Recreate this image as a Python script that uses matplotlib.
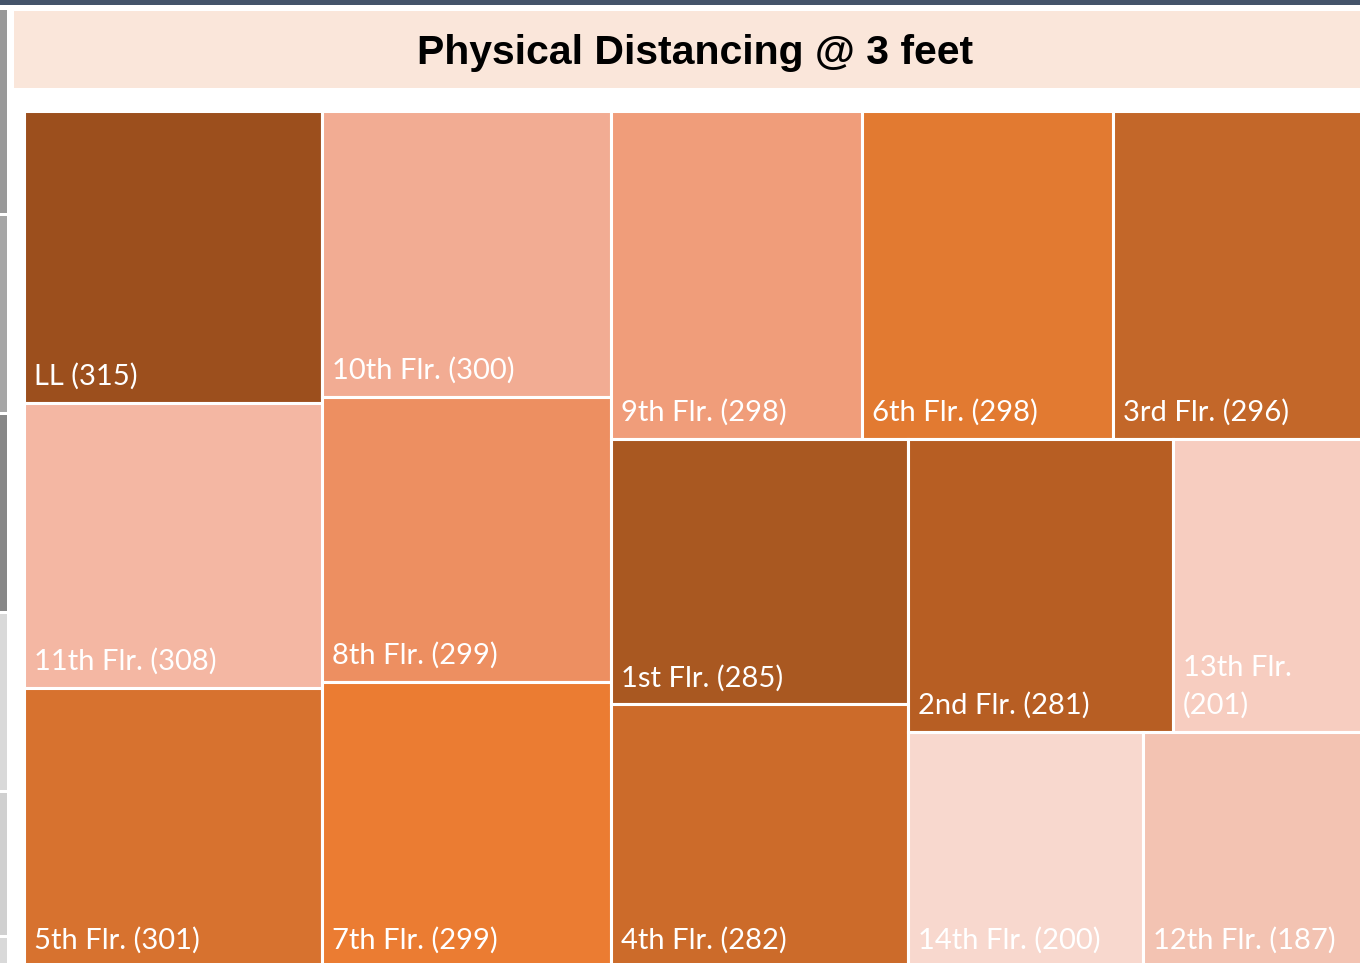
import matplotlib
matplotlib.use('Agg')
import matplotlib.pyplot as plt
from matplotlib.patches import Rectangle

# treemap data (sorted largest first, like Excel does)
floors = ['LL', '11th Flr.', '5th Flr.', '10th Flr.', '8th Flr.', '7th Flr.',
          '9th Flr.', '6th Flr.', '3rd Flr.', '1st Flr.', '4th Flr.', '2nd Flr.',
          '13th Flr.', '14th Flr.', '12th Flr.']
counts = [315, 308, 301, 300, 299, 299, 298, 298, 296, 285, 282, 281, 201, 200, 187]
colors = ['#9C4F1D', '#F4B7A3', '#D7722F', '#F2AC93', '#ED8F61', '#EB7C32',
          '#F09D7A', '#E27A31', '#C36729', '#A95821', '#CC6B2A', '#B75E23',
          '#F7CDC0', '#F8D8CE', '#F3C3B2']
title = 'Physical Distancing @ 3 feet'

W, H = 1339.0, 856.0  # treemap box in pixels


def layout(sizes, x, y, dx, dy):
    covered = sum(sizes)
    rects = []
    if dx >= dy:
        # column on the left
        width = covered / dy
        for s in sizes:
            rects.append((x, y, width, s / width))
            y += s / width
    else:
        # row along the top
        height = covered / dx
        for s in sizes:
            rects.append((x, y, s / height, height))
            x += s / height
    return rects


def worst(sizes, x, y, dx, dy):
    return max(max(r[2] / r[3], r[3] / r[2]) for r in layout(sizes, x, y, dx, dy))


def squarify(sizes, x, y, dx, dy):
    if not sizes:
        return []
    if len(sizes) == 1:
        return layout(sizes, x, y, dx, dy)
    i = 1
    while i < len(sizes) and worst(sizes[:i], x, y, dx, dy) >= worst(sizes[:i + 1], x, y, dx, dy):
        i += 1
    cur, rest = sizes[:i], sizes[i:]
    covered = sum(cur)
    if dx >= dy:
        w = covered / dy
        nx, ny, ndx, ndy = x + w, y, dx - w, dy
    else:
        h = covered / dx
        nx, ny, ndx, ndy = x, y + h, dx, dy - h
    return layout(cur, x, y, dx, dy) + squarify(rest, nx, ny, ndx, ndy)


total = sum(counts)
areas = [c * W * H / total for c in counts]
rects = squarify(areas, 0, 0, W, H)

fig = plt.figure(figsize=(13.6, 9.63), dpi=100)

# background decorations (pixel coords)
bg = fig.add_axes([0, 0, 1, 1])
bg.set_xlim(0, 1360)
bg.set_ylim(963, 0)
bg.axis('off')
bg.add_patch(Rectangle((0, 0), 1360, 5, color='#44546A', lw=0))
bg.add_patch(Rectangle((14, 11), 1346, 77, color='#FAE6DA', lw=0))
for y0, y1, c in [(10, 213, '#999999'), (216, 412, '#a6a6a6'), (415, 611, '#878787'),
                  (614, 790, '#d9d9d9'), (793, 935, '#d0d0d0'), (938, 963, '#d9d9d9')]:
    bg.add_patch(Rectangle((0, y0), 7, y1 - y0, color=c, lw=0))
bg.text(695, 53, title, ha='center', va='center', fontsize=29.5, fontweight='bold',
        family='Liberation Sans', color='black')

# treemap axes
ax = fig.add_axes([23.5 / 1360, (963 - 111 - H) / 963, W / 1360, H / 963])
ax.set_xlim(0, W)
ax.set_ylim(H, 0)
ax.axis('off')

fig.canvas.draw()
renderer = fig.canvas.get_renderer()

for (x, y, w, h), name, n, c in zip(rects, floors, counts, colors):
    ax.add_patch(Rectangle((x, y), w, h, facecolor=c, edgecolor='white', lw=2.2))
    label = f'{name} ({n})'
    t = ax.text(x + 10, y + h - 18, label, fontsize=21, family='Lato', color='white',
                va='baseline', ha='left')
    tw = t.get_window_extent(renderer).width
    if tw > w - 16:
        # too wide for the cell: put the count on a second line
        t.remove()
        lines = [name, f'({n})']
        for k, ln in enumerate(reversed(lines)):
            ax.text(x + 10, y + h - 18 - 38 * k, ln, fontsize=21, family='Lato',
                    color='white', va='baseline', ha='left')

fig.savefig('out.png', dpi=100)
